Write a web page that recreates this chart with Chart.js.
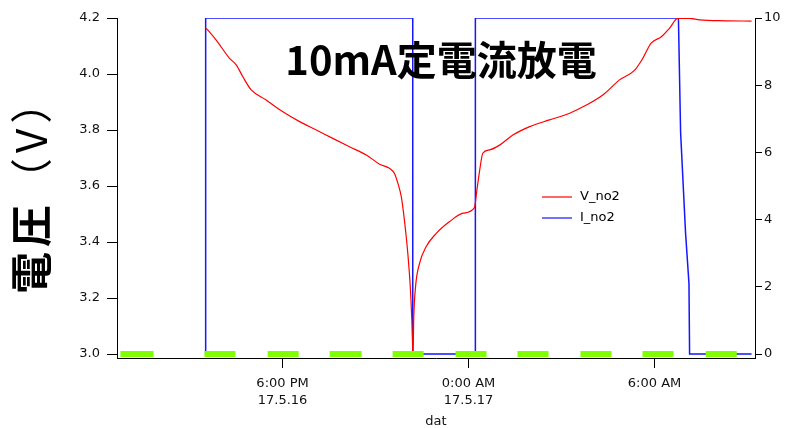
<!DOCTYPE html>
<html><head><meta charset="utf-8">
<script src="https://cdn.jsdelivr.net/npm/chart.js@4"></script>
<style>html,body{margin:0;padding:0;background:#fff;}canvas{display:block;}</style>
</head><body>
<canvas id="c" width="788" height="428"></canvas>
<script>
const chartTitle = "10mA定電流放電";
const yTitleMain = "電圧";
const yTitleUnit = "（V）";
const xTitle = "dat";
const seriesNames = ["V_no2", "I_no2"];

// time in hours relative to 0:00 AM 17.5.17
const vHours = [-8.46,-8.14,-7.71,-7.49,-7.28,-7.01,-6.53,-5.99,-5.45,-4.91,-4.38,-3.84,-3.30,-2.87,-2.55,-2.39,-2.28,-2.17,-2.07,-1.96,-1.88,-1.83,-1.80,-1.79,-1.77,-1.71,-1.58,-1.37,-1.04,-0.61,-0.18,0.19,0.27,0.30,0.36,0.46,0.68,1.00,1.43,1.97,2.61,3.26,3.80,4.33,4.87,5.36,5.62,5.89,6.22,6.48,6.75,7.13,7.45,8.30,9.13];
const vValues = [4.163,4.121,4.056,4.032,3.990,3.943,3.907,3.865,3.830,3.800,3.770,3.740,3.711,3.678,3.663,3.645,3.610,3.562,3.479,3.360,3.240,3.121,3.014,3.000,3.121,3.240,3.324,3.383,3.431,3.473,3.503,3.523,3.586,3.610,3.657,3.717,3.729,3.746,3.782,3.812,3.836,3.860,3.889,3.925,3.979,4.014,4.056,4.110,4.133,4.163,4.199,4.199,4.193,4.190,4.189];

const iHours = [-8.48,-8.48,-1.80,-1.80,0.22,0.22,6.77,6.84,7.00,7.11,7.13,9.13];
const iValues = [0,10,10,0,0,10,10,6.6,3.6,2.1,0,0];

const markStart = [-11.23,-8.52,-6.48,-4.48,-2.45,-0.42,1.58,3.61,5.61,7.65];
const markEnd   = [-10.16,-7.52,-5.48,-3.45,-1.45,0.58,2.58,4.61,6.61,8.65];

const xTickHours = [-6, 0, 6];
const xTickLabels = [["6:00 PM","17.5.16"],["0:00 AM","17.5.17"],["6:00 AM"]];
const vTicks = [3.0,3.2,3.4,3.6,3.8,4.0,4.2];
const iTicks = [0,2,4,6,8,10];

const vData = vHours.map((h,i)=>({x:h,y:vValues[i]}));
const iData = iHours.map((h,i)=>({x:h,y:iValues[i]}));
const markData = [];
markStart.forEach((s,i)=>{ markData.push({x:s,y:0},{x:markEnd[i],y:0},{x:markEnd[i],y:null}); });

const FONT = '"DejaVu Sans", sans-serif';
const CJK = '"Noto Sans CJK JP", sans-serif';

const overlay = {
  id: 'overlay',
  afterDatasetsDraw(chart) {
    const ctx = chart.ctx;
    ctx.save();
    ctx.fillStyle = '#000';
    // title
    ctx.font = 'bold 40px ' + CJK;
    ctx.textAlign = 'center';
    ctx.textBaseline = 'middle';
    ctx.fillText(chartTitle, 441, 60);
    // legend
    ctx.font = '13px ' + FONT;
    ctx.textAlign = 'left';
    const ds = chart.data.datasets;
    [1,2].forEach((k,j)=>{
      const y = 197 + j*21;
      ctx.strokeStyle = ds[k].borderColor;
      ctx.lineWidth = 1.2;
      ctx.beginPath(); ctx.moveTo(542,y); ctx.lineTo(572,y); ctx.stroke();
      ctx.fillStyle = '#000';
      ctx.fillText(ds[k].label, 580, y);
    });
    // y title
    ctx.translate(31, 294);
    ctx.rotate(-Math.PI/2);
    ctx.textAlign = 'left';
    ctx.letterSpacing = '5px';
    ctx.font = 'bold 42px ' + CJK;
    ctx.fillText(yTitleMain, 0, 0);
    const w = ctx.measureText(yTitleMain).width;
    ctx.font = '42px ' + CJK;
    ctx.fillText(yTitleUnit, w, 0);
    ctx.restore();
  }
};

new Chart(document.getElementById('c'), {
  type: 'line',
  data: {
    datasets: [
      { label: 'marks', data: markData, yAxisID: 'yI', borderColor: '#80ff00', borderWidth: 6,
        borderCapStyle: 'butt', pointRadius: 0, spanGaps: false, order: 0 },
      { label: seriesNames[0], data: vData, yAxisID: 'yV', borderColor: '#ff0000', borderWidth: 1.2,
        pointRadius: 0, cubicInterpolationMode: 'monotone', order: 1 },
      { label: seriesNames[1], data: iData, yAxisID: 'yI', borderColor: '#1515ff', borderWidth: 1.5,
        pointRadius: 0, tension: 0, order: 2 }
    ]
  },
  options: {
    responsive: false, animation: false, devicePixelRatio: 1,
    layout: { padding: { top: 18, left: 0, right: 0, bottom: 0 } },
    plugins: { legend: { display: false }, tooltip: { enabled: false }, title: { display: false } },
    scales: {
      x: {
        type: 'linear', position: 'bottom', min: -11.34, max: 9.24,
        afterBuildTicks: s => { s.ticks = xTickHours.map(v=>({value:v})); },
        afterFit: s => { s.height = 70; },
        grid: { drawOnChartArea: false, drawTicks: true, tickLength: 10, tickColor: '#000' },
        border: { display: true, color: '#000', width: 1 },
        ticks: { autoSkip: false, maxRotation: 0, padding: 7, color: '#111',
          font: { family: FONT, size: 13, lineHeight: 1.3 },
          callback: (v, i) => xTickLabels[i] },
        title: { display: true, text: xTitle, color: '#111', padding: 0,
          font: { family: FONT, size: 13, lineHeight: 1 } }
      },
      yV: {
        type: 'linear', position: 'left', min: 3.0 - 4/280, max: 4.2,
        afterBuildTicks: s => { s.ticks = vTicks.map(v=>({value:v})); },
        afterFit: s => { s.width = 117; },
        grid: { drawOnChartArea: false, drawTicks: true, tickLength: 10, tickColor: '#000' },
        border: { display: true, color: '#000', width: 1 },
        ticks: { padding: 7, color: '#111', font: { family: FONT, size: 13 },
          callback: v => Number(v).toFixed(1) }
      },
      yI: {
        type: 'linear', position: 'right', min: -4/33.6, max: 10,
        afterBuildTicks: s => { s.ticks = iTicks.map(v=>({value:v})); },
        afterFit: s => { s.width = 33; },
        grid: { drawOnChartArea: false, drawTicks: true, tickLength: 7, tickColor: '#000' },
        border: { display: true, color: '#000', width: 1 },
        ticks: { padding: 2, color: '#111', font: { family: FONT, size: 13 },
          callback: v => String(v) }
      }
    }
  },
  plugins: [overlay]
});
</script>
</body></html>
